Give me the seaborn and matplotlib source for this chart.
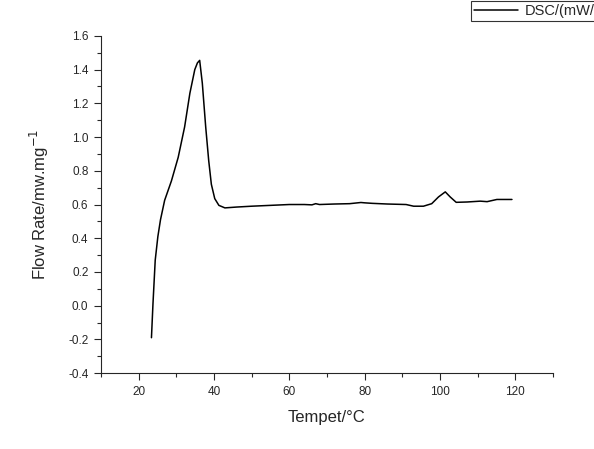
import pandas as pd
import numpy as np
import matplotlib
matplotlib.use('Agg')
import matplotlib.pyplot as plt
import seaborn as sns
from matplotlib.ticker import MultipleLocator

# DSC curve
temp = [23.4, 23.8, 24.4, 25.1, 25.8, 26.9, 28.7, 30.5, 32.2, 33.6, 34.9, 35.6, 36.2,
        36.9, 37.8, 38.6, 39.3, 40.2, 41.3, 42.9, 46.0, 50.0, 55.0, 60.0, 64.0, 66.0,
        67.0, 68.0, 72.0, 76.0, 79.0, 80.0, 82.0, 86.0, 91.0, 93.0, 95.6, 97.8, 99.6,
        101.4, 102.7, 104.3, 107.2, 110.7, 112.5, 115.1, 119.1]
flow = [-0.19, 0.01, 0.27, 0.41, 0.51, 0.625, 0.74, 0.88, 1.06, 1.26, 1.40, 1.44, 1.455,
        1.32, 1.06, 0.86, 0.72, 0.635, 0.595, 0.58, 0.585, 0.59, 0.595, 0.60, 0.60, 0.598,
        0.605, 0.60, 0.603, 0.605, 0.612, 0.61, 0.607, 0.603, 0.60, 0.59, 0.59, 0.605, 0.645,
        0.675, 0.645, 0.613, 0.615, 0.62, 0.617, 0.63, 0.63]

df = pd.DataFrame({'Temp': temp, 'Flow': flow})

sns.set_style('ticks')
plt.rcParams['font.family'] = ['Liberation Sans', 'DejaVu Sans']

fig = plt.figure(figsize=(5.94, 4.49), dpi=100)
ax = fig.add_axes([0.170, 0.169, 0.761, 0.751])

sns.lineplot(data=df, x='Temp', y='Flow', sort=False, color='black', linewidth=1.1,
             ax=ax, label='DSC/(mW/mg)', legend=False)

ax.set_xlim(10, 130)
ax.set_ylim(-0.4, 1.6)
ax.xaxis.set_major_locator(MultipleLocator(20))
ax.xaxis.set_minor_locator(MultipleLocator(10))
ax.yaxis.set_major_locator(MultipleLocator(0.2))
ax.yaxis.set_minor_locator(MultipleLocator(0.1))
ax.set_xticks([20, 40, 60, 80, 100, 120])
ax.yaxis.set_major_formatter(matplotlib.ticker.FormatStrFormatter('%.1f'))
ax.tick_params(which='major', direction='out', length=5, width=0.8, labelsize=8.5, pad=4)
ax.tick_params(which='minor', direction='out', length=3, width=0.8)
sns.despine(ax=ax)
for s in ['left', 'bottom']:
    ax.spines[s].set_linewidth(0.8)

ax.set_xlabel('Tempet/°C', fontsize=12, labelpad=9)
ax.set_ylabel('Flow Rate/mw.mg$^{-1}$', fontsize=12, labelpad=12)

leg = fig.legend(loc='upper left', bbox_to_anchor=(0.793, 0.997), fontsize=10.5,
                 frameon=True, fancybox=False, edgecolor='black', handlelength=3,
                 borderpad=0.2, handletextpad=0.5, borderaxespad=0)
leg.get_frame().set_linewidth(0.8)

fig.savefig('out.png', dpi=100)
